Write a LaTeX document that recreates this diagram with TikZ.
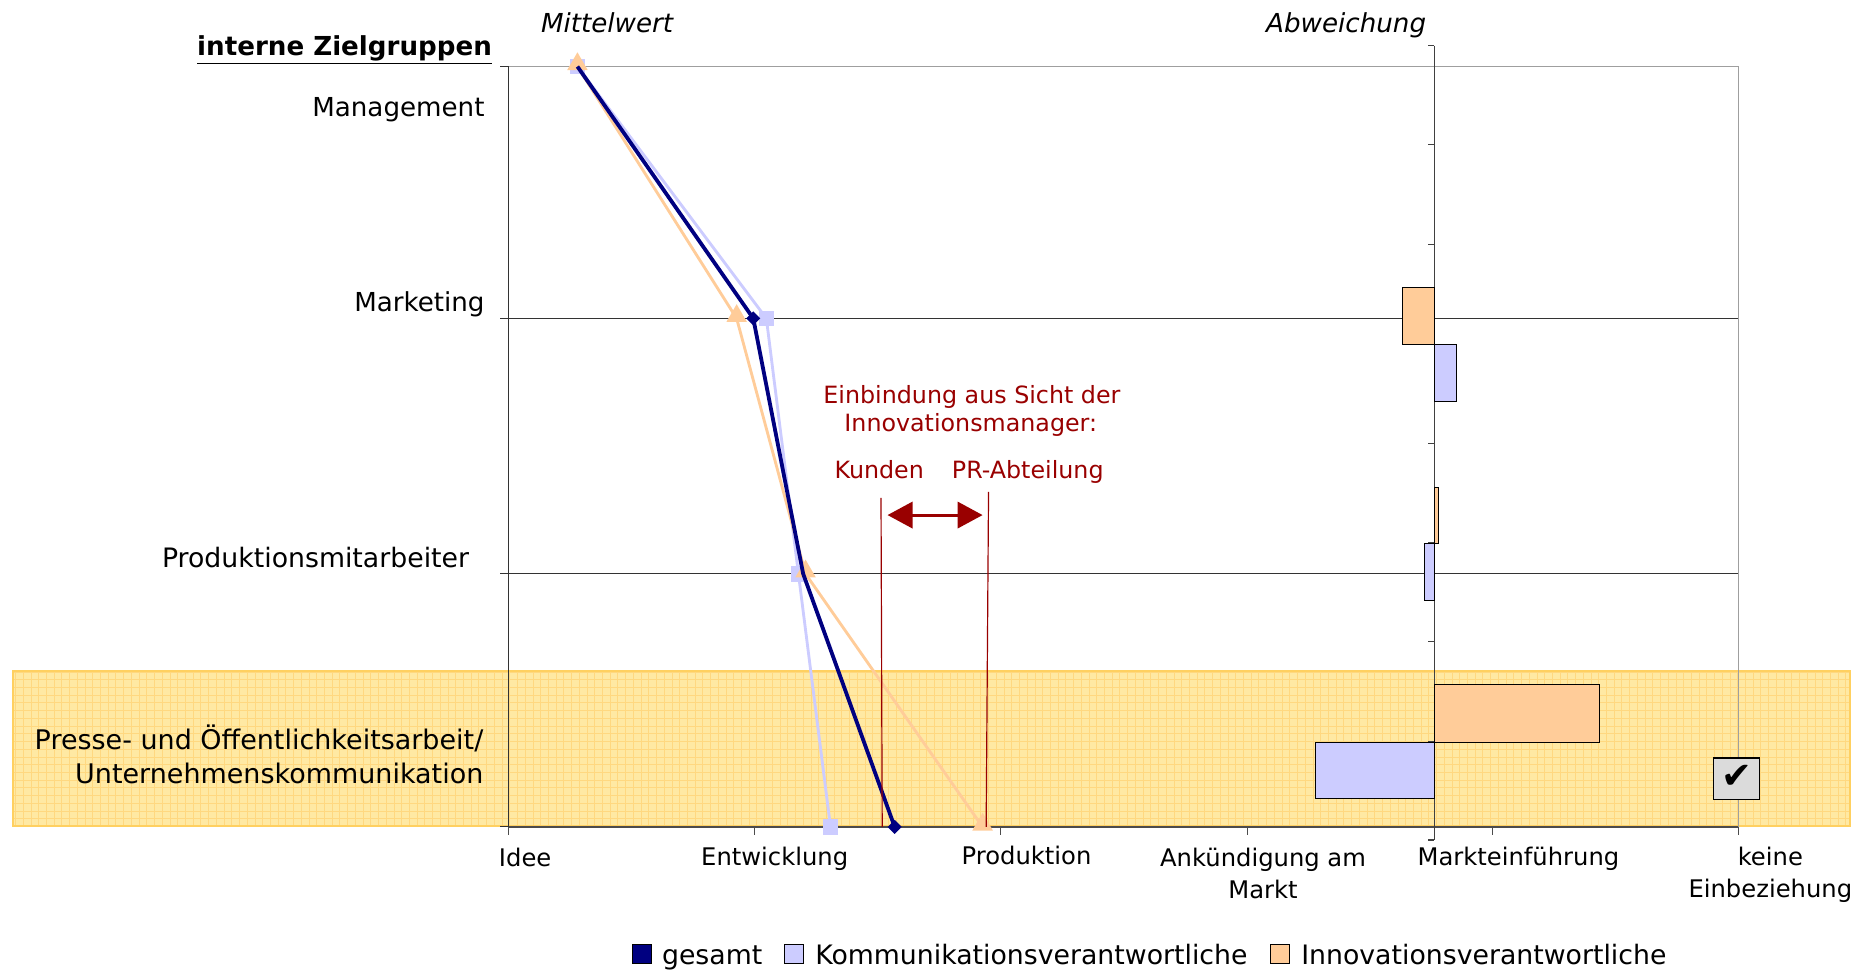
\documentclass[tikz,border=0pt]{standalone}
\usepackage{fontspec}
\setmainfont{DejaVu Sans}
\usetikzlibrary{arrows.meta,shapes.geometric,calc}
\definecolor{navy}{HTML}{000080}
\definecolor{lav}{HTML}{CCCCFF}
\definecolor{peach}{HTML}{FFCC99}
\definecolor{dred}{HTML}{990000}
\definecolor{bandfill}{HTML}{FFE9A3}
\definecolor{bandgrid}{HTML}{FFD880}
\definecolor{bandedge}{HTML}{FFD060}
\tikzset{
  lbl/.style={inner sep=0pt, font=\fontsize{22}{28}\selectfont},
  xlbl/.style={inner sep=0pt, font=\fontsize{20.4}{27}\selectfont},
  rlbl/.style={inner sep=0pt, text=dred, font=\fontsize{20}{24}\selectfont},
  obar/.style={fill=peach, draw=black, line width=0.8pt},
  bbar/.style={fill=lav, draw=black, line width=0.8pt},
  sqm/.style={fill=lav, minimum size=13pt, inner sep=0pt},
  trim/.style={regular polygon, regular polygon sides=3, fill=peach, minimum size=20pt, inner sep=0pt},
  dim/.style={diamond, fill=navy, minimum size=12pt, inner sep=0pt},
  legbox/.style={draw=black, line width=0.9pt, minimum size=16pt, inner sep=0pt}
}
\begin{document}
\begin{tikzpicture}[x=1pt,y=-1pt]
\useasboundingbox (0,0) rectangle (1568,817);

% highlighted band
\fill[bandfill] (11,565) rectangle (1557,695);
\begin{scope}
\clip (11,565) rectangle (1557,695);
\draw[bandgrid, line width=0.6pt, step=6.5pt] (0,560) grid (1560,700);
\end{scope}
\draw[bandedge, line width=2pt] (11,565) rectangle (1557,695);

% plot frame and grid
\draw[gray!75, line width=1.2pt] (428,56) -- (1463,56) -- (1463,696);
\draw[black!80, line width=0.8pt] (428,268) -- (1463,268);
\draw[black!80, line width=0.8pt] (428,483) -- (1463,483);
\draw[black!80, line width=0.9pt] (428,56) -- (428,696);
\foreach \yy in {56,268,483,696} \draw[black!80, line width=0.9pt] (421,\yy) -- (428,\yy);
\draw[black!70, line width=1.5pt] (428,696) -- (1463,696);
\foreach \xx in {428,635,842,1050,1256,1463} \draw[black!70, line width=0.9pt] (\xx,696) -- (\xx,703);

% secondary axis
\draw[black!75, line width=0.9pt] (1207,38.5) -- (1207,707);
\foreach \yy in {38.5,122,206,290,373,457,540,624,707} \draw[black!75, line width=0.9pt] (1202,\yy) -- (1207,\yy);

% bars
\draw[obar] (1180,242) rectangle (1207,290);
\draw[bbar] (1207,290) rectangle (1226,338);
\draw[obar] (1207,410) rectangle (1211,457);
\draw[bbar] (1199,457) rectangle (1207,505);
\draw[obar] (1207,576.5) rectangle (1346,624.5);
\draw[bbar] (1107,624.5) rectangle (1207,672);

% check box
\node[draw=black, fill=gray!28, line width=1.2pt, minimum width=39pt, minimum height=35pt, inner sep=0pt] (chk) at (1461.5,655.5) {};
\node[inner sep=0pt, font=\fontsize{31}{31}\selectfont] (chkm) at (1462,654) {✔};

% data points
\coordinate (K1) at (486,56);  \coordinate (K2) at (645,268); \coordinate (K3) at (672,483); \coordinate (K4) at (699,696);
\coordinate (I1) at (486,56);  \coordinate (I2) at (620,268); \coordinate (I3) at (678,483); \coordinate (I4) at (827,696);
\coordinate (G1) at (486,56);  \coordinate (G2) at (634,268); \coordinate (G3) at (676,483); \coordinate (G4) at (753,696);

\draw[lav, line width=2.4pt, line join=round] (K1) -- (K2) -- (K3) -- (K4);
\foreach \p in {K1,K2,K3,K4} \node[sqm] at (\p) {};
\draw[peach, line width=2.4pt, line join=round] (I1) -- (I2) -- (I3) -- (I4);
\foreach \p in {I1,I2,I3,I4} \node[trim] at ($(\p)+(0,-2)$) {};
\draw[navy, line width=3.2pt, line join=round] (G1) -- (G2) -- (G3) -- (G4);
\foreach \p in {G2,G4} \node[dim] at (\p) {};

% annotation
\node[rlbl] (t1) at (818,334) {Einbindung aus Sicht der};
\node[rlbl] (t2) at (817,358) {Innovationsmanager:};
\node[rlbl] (kun) at (740,395) {Kunden};
\node[rlbl] (pr) at (865,397) {PR-Abteilung};
\coordinate (kt) at (741.5,419); \coordinate (kb) at (742.5,696);
\coordinate (pt) at (832,414);  \coordinate (pb) at (830,696);
\draw[dred, line width=1pt] (kt) -- (kb);
\draw[dred, line width=1pt] (pt) -- (pb);
\coordinate (aL) at (747,433.5); \coordinate (aR) at (827,433.5);
\draw[dred, line width=2.5pt, {Triangle[length=21pt,width=22pt]}-{Triangle[length=21pt,width=22pt]}] (aL) -- (aR);

% titles
\node[lbl, font=\fontsize{22}{28}\selectfont\itshape] (mw) at (511,19) {Mittelwert};
\node[lbl, font=\fontsize{22}{28}\selectfont\itshape] (ab) at (1133,21) {Abweichung};
\node[inner sep=0pt, font=\fontsize{22}{26}\selectfont\bfseries] (iz) at (290,42) {\underline{interne Zielgruppen}};

% category labels
\node[lbl, anchor=east] (c1) at (408,92) {Management};
\node[lbl, anchor=east] (c2) at (408,256) {Marketing};
\node[lbl, anchor=east, font=\fontsize{22.5}{28}\selectfont] (c3) at (395,469) {Produktionsmitarbeiter};
\node[lbl, anchor=east, align=right, font=\fontsize{22.7}{28}\selectfont] (c4) at (407,635) {Presse- und Öffentlichkeitsarbeit/\\Unternehmenskommunikation};

% x labels
\node[xlbl] (x1) at (442,722) {Idee};
\node[xlbl] (x2) at (652,723) {Entwicklung};
\node[xlbl] (x3) at (864,720) {Produktion};
\node[xlbl, align=center] (x4) at (1063,735) {Ankündigung am\\Markt};
\node[xlbl] (x5) at (1278,723) {Markteinführung};
\node[xlbl, align=center] (x6) at (1490,736) {keine\\Einbeziehung};

% legend
\node[legbox, fill=navy] (lg1) at (540.5,803) {};
\node[lbl, anchor=west, font=\fontsize{22.5}{28}\selectfont] (lt1) at (557,806) {gesamt};
\node[legbox, fill=lav] (lg2) at (668,803) {};
\node[lbl, anchor=west, font=\fontsize{22.5}{28}\selectfont] (lt2) at (686,803) {Kommunikationsverantwortliche};
\node[legbox, fill=peach] (lg3) at (1077,803) {};
\node[lbl, anchor=west, font=\fontsize{22.5}{28}\selectfont] (lt3) at (1095,803) {Innovationsverantwortliche};
\end{tikzpicture}
\end{document}
